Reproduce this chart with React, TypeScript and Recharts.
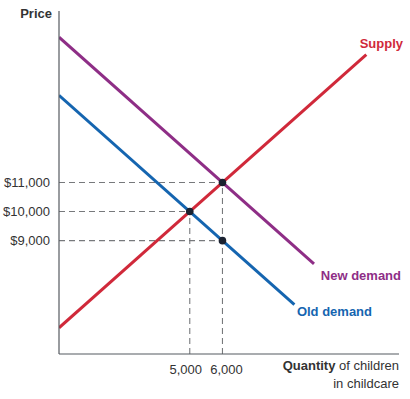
import React from "react";
import { ComposedChart, Line, XAxis, YAxis, ReferenceLine, ReferenceDot } from "recharts";

const supply = [
  { x: 1000, y: 6000 },
  { x: 10400, y: 15400 },
];
const oldDemand = [
  { x: 1000, y: 14000 },
  { x: 8200, y: 6800 },
];
const newDemand = [
  { x: 1000, y: 16000 },
  { x: 8800, y: 8200 },
];
const equilibria = [
  { x: 5000, y: 10000 },
  { x: 6000, y: 11000 },
  { x: 6000, y: 9000 },
];
const xTicks = [5000, 6000];
const yTicks = [9000, 10000, 11000];
const xDomain = [1000, 11400];
const yDomain = [5100, 16900];

const FONT = "'Liberation Sans', Arial, Helvetica, sans-serif";
const AXIS = "#555a60";
const DASH = "#77797c";
const RED = "#d0293a";
const PURPLE = "#8e2e86";
const BLUE = "#1565b0";

const fmt = (v: number) => v.toLocaleString("en-US");

const XTick = (props: any) => {
  const { x, y, payload } = props;
  const dx = payload.value === 5000 ? -4 : 4;
  return (
    <text x={x + dx} y={y + 12} textAnchor="middle" fontFamily={FONT} fontSize={13} fill="#333">
      {fmt(payload.value)}
    </text>
  );
};

const YTick = (props: any) => {
  const { x, y, payload } = props;
  return (
    <text x={x - 1} y={y + 4.5} textAnchor="end" fontFamily={FONT} fontSize={13} fill="#333">
      {"$" + fmt(payload.value)}
    </text>
  );
};

export default function App() {
  return (
    <div style={{ position: "absolute", left: 0, top: 0, background: "#fff" }}>
      <ComposedChart width={410} height={399} margin={{ top: 11, right: 11, left: 0, bottom: 0 }}>
        <XAxis
          type="number"
          dataKey="x"
          domain={xDomain}
          ticks={xTicks}
          interval={0}
          allowDataOverflow
          height={45}
          tickLine={false}
          axisLine={{ stroke: AXIS, strokeWidth: 1.2 }}
          tick={<XTick />}
        />
        <YAxis
          type="number"
          dataKey="y"
          domain={yDomain}
          ticks={yTicks}
          interval={0}
          allowDataOverflow
          width={59}
          tickLine={false}
          axisLine={{ stroke: AXIS, strokeWidth: 1.2 }}
          tick={<YTick />}
        />
        <ReferenceLine segment={[{ x: 1000, y: 11000 }, { x: 6000, y: 11000 }]} stroke={DASH} strokeDasharray="6 4" strokeWidth={1.1} />
        <ReferenceLine segment={[{ x: 1000, y: 10000 }, { x: 5000, y: 10000 }]} stroke={DASH} strokeDasharray="6 4" strokeWidth={1.1} />
        <ReferenceLine segment={[{ x: 1000, y: 9000 }, { x: 6000, y: 9000 }]} stroke={DASH} strokeDasharray="6 4" strokeWidth={1.1} />
        <ReferenceLine segment={[{ x: 5000, y: 5100 }, { x: 5000, y: 10000 }]} stroke={DASH} strokeDasharray="6 4" strokeWidth={1.1} />
        <ReferenceLine segment={[{ x: 6000, y: 5100 }, { x: 6000, y: 11000 }]} stroke={DASH} strokeDasharray="6 4" strokeWidth={1.1} />
        <Line data={supply} dataKey="y" stroke={RED} strokeWidth={3} dot={false} activeDot={false} isAnimationActive={false} />
        <Line data={newDemand} dataKey="y" stroke={PURPLE} strokeWidth={3} dot={false} activeDot={false} isAnimationActive={false} />
        <Line data={oldDemand} dataKey="y" stroke={BLUE} strokeWidth={3} dot={false} activeDot={false} isAnimationActive={false} />
        {equilibria.map((p, i) => (
          <ReferenceDot key={i} x={p.x} y={p.y} r={3.8} fill="#1b2230" stroke="none" />
        ))}
      </ComposedChart>
      <svg width={410} height={399} style={{ position: "absolute", left: 0, top: 0, pointerEvents: "none" }}>
        <text x={52} y={18} textAnchor="end" fontFamily={FONT} fontSize={13} fontWeight="bold" fill="#333">Price</text>
        <text x={403} y={48} textAnchor="end" fontFamily={FONT} fontSize={13} fontWeight="bold" fill={RED}>Supply</text>
        <text x={401} y={280} textAnchor="end" fontFamily={FONT} fontSize={13} fontWeight="bold" fill={PURPLE}>New demand</text>
        <text x={372} y={316} textAnchor="end" fontFamily={FONT} fontSize={13} fontWeight="bold" fill={BLUE}>Old demand</text>
        <text x={399} y={370} textAnchor="end" fontFamily={FONT} fontSize={13} fill="#333">
          <tspan fontWeight="bold">Quantity</tspan> of children
        </text>
        <text x={399} y={388} textAnchor="end" fontFamily={FONT} fontSize={13} fill="#333">in childcare</text>
      </svg>
    </div>
  );
}
